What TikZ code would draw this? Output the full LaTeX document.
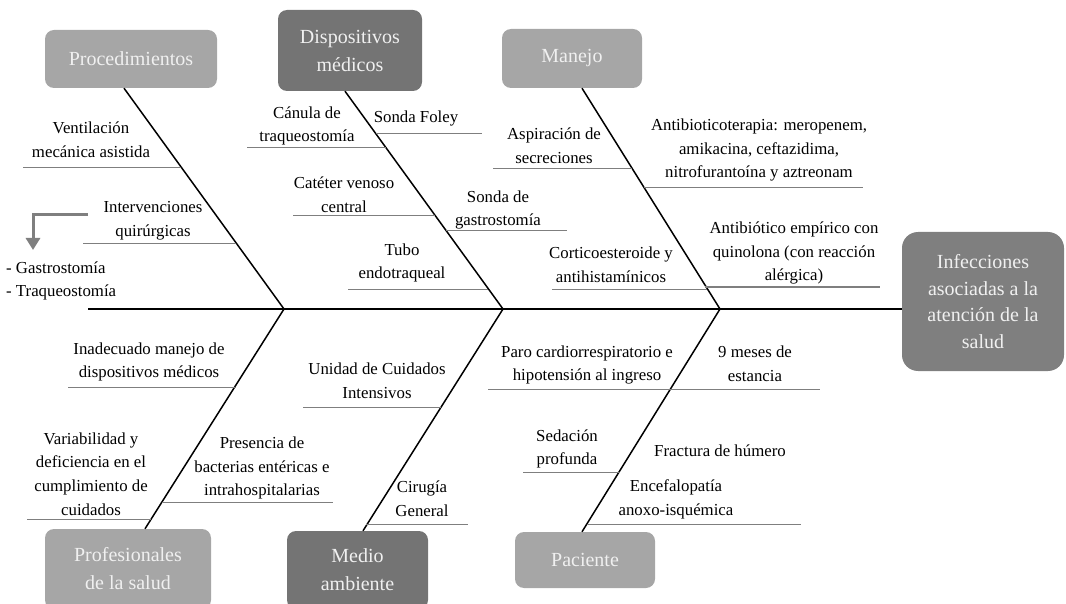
\documentclass[tikz,border=0pt]{standalone}
\usepackage{fontspec}
\setmainfont{Liberation Serif}
\usetikzlibrary{arrows.meta}
\definecolor{boxlight}{HTML}{A6A6A6}
\definecolor{boxdark}{HTML}{747474}
\definecolor{boxmain}{HTML}{7F7F7F}

\begin{document}
\begin{tikzpicture}[x=1pt,y=-1pt,
    cause/.style={rounded corners=9pt,text=white!94!black,font=\fontsize{20}{28}\selectfont,align=center,inner sep=0pt},
    lbl/.style={font=\fontsize{16.8}{23.8}\selectfont,align=center,inner sep=0pt},
    rib/.style={draw=boxmain,line width=1pt},
    bone/.style={draw=black,line width=1.5pt}]
\useasboundingbox (0,0) rectangle (1066,604);
% effect and causes
\node[cause,fill=boxmain,rounded corners=16pt,minimum width=162pt,minimum height=139pt,font=\fontsize{20}{26.5}\selectfont] (efecto) at (983,301.5) {Infecciones\\asociadas a la\\atención de la\\salud};
\node[cause,fill=boxlight,minimum width=172pt,minimum height=58pt] (proc) at (131,59) {Procedimientos};
\node[cause,fill=boxdark,minimum width=144pt,minimum height=81pt] (disp) at (350,50.5) {Dispositivos\\médicos};
\node[cause,fill=boxlight,minimum width=140pt,minimum height=59pt] (manejo) at (572,58.5) {Manejo};
\node[cause,fill=boxlight,minimum width=166pt,minimum height=80pt] (prof) at (128,569) {Profesionales\\de la salud};
\node[cause,fill=boxdark,minimum width=141pt,minimum height=78pt] (medio) at (357.5,570) {Medio\\ambiente};
\node[cause,fill=boxlight,minimum width=140pt,minimum height=56pt] (paciente) at (585,560) {Paciente};
% spine and bones
\coordinate (jA) at (284,309);
\coordinate (jB) at (503,309);
\coordinate (jC) at (720,309);
\draw[line width=2.2pt] (88,309) -- (efecto.west |- jA);
\draw[bone] ([xshift=-7pt]proc.south) -- (jA) -- ([xshift=17pt]prof.north);
\draw[bone] ([xshift=-5pt]disp.south) -- (jB) -- ([xshift=5.5pt]medio.north);
\draw[bone] ([xshift=10pt]manejo.south) -- (jC) -- ([xshift=-3pt]paciente.north);
% Procedimientos
\node[lbl] (ventilacion) at (91,140) {Ventilación\\mecánica asistida};
\draw[rib] (23,168) -- (181,168);
\node[lbl] (interv) at (153,221) {Intervenciones\\quirúrgicas};
\draw[rib] (83,244) -- (236,244);
\coordinate (flecha) at (33,250);
\draw[boxmain,line width=3pt,-{Triangle[width=14pt,length=12pt]}] (88,215) -| (flecha);
\node[lbl,align=left,anchor=west] (lista) at (6,281) {- Gastrostomía\\- Traqueostomía};
% Dispositivos medicos
\node[lbl] (canula) at (307,126) {Cánula de\\traqueostomía};
\draw[rib] (247,148) -- (386,148);
\node[lbl] (foley) at (416,118) {Sonda Foley};
\draw[rib] (376,134) -- (482,134);
\node[lbl] (cateter) at (344,195) {Catéter venoso\\central};
\draw[rib] (293,216) -- (435,216);
\node[lbl] (gastro) at (498,210) {Sonda de\\gastrostomía};
\draw[rib] (446,231) -- (567,231);
\node[lbl] (tubo) at (402,263) {Tubo\\endotraqueal};
\draw[rib] (348,289) -- (488,289);
% Manejo
\node[lbl] (aspiracion) at (554,146) {Aspiración de\\secreciones};
\draw[rib] (493,169) -- (632,169);
\node[lbl] (antibio) at (759,150) {Antibioticoterapia: meropenem,\\amikacina, ceftazidima,\\nitrofurantoína y aztreonam};
\draw[rib] (644,188) -- (863,188);
\node[lbl] (cortico) at (611,265) {Corticoesteroide y\\antihistamínicos};
\draw[rib] (552,289) -- (707,289);
\node[lbl] (empirico) at (794,253) {Antibiótico empírico con\\quinolona (con reacción\\alérgica)};
\draw[rib] (705,287) -- (880,287);
% Profesionales de la salud
\node[lbl] (inadecuado) at (149,362) {Inadecuado manejo de\\dispositivos médicos};
\draw[rib] (68,387) -- (236,387);
\node[lbl] (variabilidad) at (91,474) {Variabilidad y\\deficiencia en el\\cumplimiento de\\cuidados};
\draw[rib] (27,519) -- (151,519);
% Medio ambiente
\node[lbl] (presencia) at (262,468) {Presencia de\\bacterias entéricas e\\intrahospitalarias};
\draw[rib] (162,502) -- (333,502);
\node[lbl] (uci) at (377,381) {Unidad de Cuidados\\Intensivos};
\draw[rib] (303,407) -- (441,407);
\node[lbl] (cirugia) at (422,499) {Cirugía\\General};
\draw[rib] (366,524) -- (468,524);
% Paciente
\node[lbl] (paro) at (587,365) {Paro cardiorrespiratorio e\\hipotensión al ingreso};
\draw[rib] (488,389) -- (671,389);
\node[lbl] (estancia) at (755,364) {9 meses de\\estancia};
\draw[rib] (671,389) -- (820,389);
\node[lbl] (sedacion) at (567,449) {Sedación\\profunda};
\draw[rib] (523,472) -- (620,472);
\node[lbl] (fractura) at (720,451) {Fractura de húmero};
\node[lbl] (encefalo) at (676,499) {Encefalopatía\\anoxo-isquémica};
\draw[rib] (587,524) -- (801,524);
\end{tikzpicture}
\end{document}
